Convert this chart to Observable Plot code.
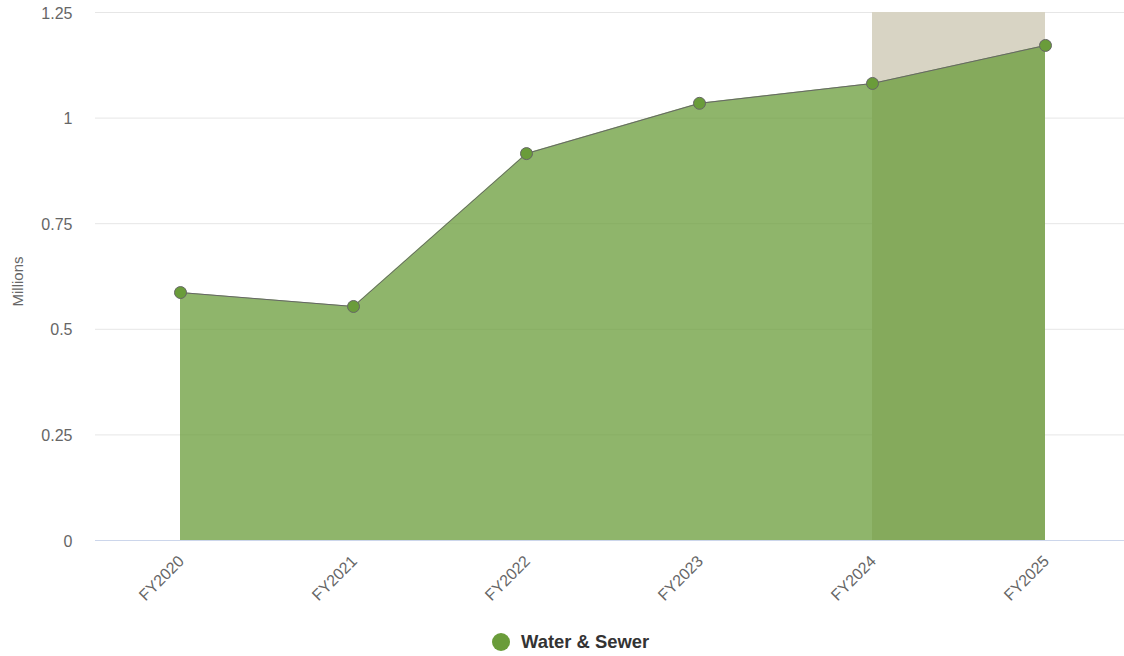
<!DOCTYPE html>
<html>
<head>
<meta charset="utf-8">
<script src="https://cdn.jsdelivr.net/npm/d3@7"></script>
<script src="https://cdn.jsdelivr.net/npm/@observablehq/plot@0.6"></script>
<style>
  body { margin: 0; background: #fff; font-family: Arial, "Liberation Sans", Helvetica, sans-serif; }
  #wrap { position: relative; width: 1124px; height: 656px; }
  #legend { position: absolute; left: 492px; top: 631px; display: flex; align-items: center; font-weight: bold; font-size: 18.4px; color: #333; }
  #legend .sw { width: 18px; height: 18px; border-radius: 50%; background: #6a9c3a; margin-right: 11px; }
</style>
</head>
<body>
<div id="wrap">
<div id="chart"></div>
<div id="legend"><span class="sw"></span><span>Water &amp; Sewer</span></div>
</div>
<script>
const years = ["FY2020", "FY2021", "FY2022", "FY2023", "FY2024", "FY2025"];
const values = [0.587, 0.554, 0.916, 1.035, 1.082, 1.172];
const yTicks = [0, 0.25, 0.5, 0.75, 1, 1.25];
const forecastStart = "FY2024";
const forecastEnd = "FY2025";
const seriesName = "Water & Sewer";
const axisLabel = "Millions";

const data = years.map((y, i) => ({year: y, value: values[i]}));
const green = "#6a9c3a";

const chart = Plot.plot({
  width: 1124,
  height: 620,
  marginLeft: 95,
  marginRight: 0,
  marginTop: 12,
  marginBottom: 80,
  style: {fontFamily: "Arial, 'Liberation Sans', sans-serif", fontSize: "16px", color: "#666"},
  x: {type: "point", domain: years, range: [180, 1045], padding: 0},
  y: {domain: [0, 1.25]},
  marks: [
    Plot.ruleY(yTicks.filter(d => d > 0), {stroke: "#e6e6e6", strokeWidth: 1}),
    Plot.rect([{a: forecastStart, b: forecastEnd}], {x1: "a", x2: "b", y1: 0, y2: 1.25, fill: "#d8d4c4"}),
    Plot.areaY(data, {x: "year", y: "value", fill: green, fillOpacity: 0.75}),
    Plot.ruleY([0], {stroke: "#ccd6eb", strokeWidth: 1}),
    Plot.lineY(data, {x: "year", y: "value", stroke: "#666", strokeWidth: 1}),
    Plot.dot(data, {x: "year", y: "value", r: 6, fill: green, stroke: "#666", strokeWidth: 1}),
    Plot.axisY({ticks: yTicks, tickFormat: d => String(d), tickSize: 0, tickPadding: 23, label: null, fill: "#666", dy: 1, fontSize: 16}),
    Plot.axisX({tickSize: 0, tickRotate: -45, tickPadding: 10, label: null, fill: "#666", dx: 1, dy: 8, fontSize: 16}),
    Plot.text([axisLabel], {frameAnchor: "left", text: d => d, textAnchor: "middle", rotate: -90, dx: -77, dy: 5, fill: "#666", fontSize: 15})
  ]
});
document.getElementById("chart").appendChild(chart);
</script>
</body>
</html>
